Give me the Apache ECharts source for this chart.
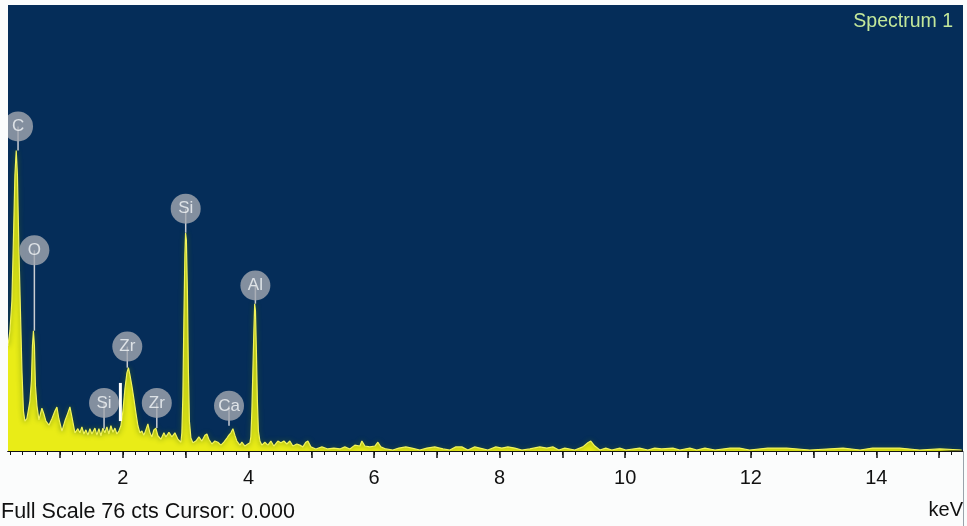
<!DOCTYPE html>
<html>
<head>
<meta charset="utf-8">
<title>Spectrum 1</title>
<style>
  html, body { margin: 0; padding: 0; background: #fbfcfc; }
  #chart { width: 967px; height: 526px; }
</style>
<script src="https://cdn.jsdelivr.net/npm/echarts@6/dist/echarts.min.js"></script>
</head>
<body>
<div id="chart"></div>
<script>
// EDS spectrum: energy (keV) and counts per sampled channel
const energyKeV = [
  0.169, 0.201, 0.232, 0.256, 0.280, 0.301, 0.320, 0.344, 0.368, 0.392,
  0.416, 0.439, 0.471, 0.487, 0.519, 0.543, 0.559, 0.575, 0.591, 0.607,
  0.631, 0.662, 0.710, 0.742, 0.774, 0.822, 0.869, 0.917, 0.949, 0.980,
  1.029, 1.076, 1.124, 1.156, 1.188, 1.236, 1.283, 1.315, 1.347, 1.379,
  1.411, 1.443, 1.475, 1.506, 1.554, 1.586, 1.618, 1.650, 1.681, 1.713,
  1.745, 1.777, 1.809, 1.841, 1.873, 1.904, 1.936, 1.968, 2.000, 2.032,
  2.064, 2.088, 2.111, 2.143, 2.175, 2.207, 2.239, 2.271, 2.303, 2.334,
  2.366, 2.398, 2.430, 2.462, 2.493, 2.525, 2.557, 2.605, 2.653, 2.685,
  2.733, 2.780, 2.828, 2.876, 2.924, 2.939, 2.955, 2.971, 2.987, 2.998,
  3.011, 3.027, 3.043, 3.059, 3.083, 3.115, 3.162, 3.210, 3.258, 3.306,
  3.338, 3.369, 3.417, 3.465, 3.513, 3.561, 3.608, 3.656, 3.688, 3.720,
  3.752, 3.783, 3.815, 3.863, 3.895, 3.943, 3.990, 4.022, 4.038, 4.054,
  4.070, 4.086, 4.099, 4.111, 4.126, 4.142, 4.158, 4.182, 4.213, 4.261,
  4.309, 4.357, 4.404, 4.468, 4.516, 4.564, 4.611, 4.659, 4.707, 4.771,
  4.818, 4.866, 4.914, 4.946, 4.994, 5.073, 5.169, 5.264, 5.360, 5.455,
  5.535, 5.615, 5.694, 5.774, 5.806, 5.854, 5.933, 6.013, 6.061, 6.108,
  6.188, 6.299, 6.395, 6.506, 6.602, 6.729, 6.841, 6.968, 7.096, 7.207,
  7.303, 7.398, 7.494, 7.605, 7.685, 7.812, 7.939, 8.035, 8.131, 8.242,
  8.354, 8.481, 8.640, 8.752, 8.847, 8.943, 9.038, 9.197, 9.325, 9.404,
  9.452, 9.516, 9.596, 9.691, 9.787, 9.914, 10.01, 10.23, 10.36, 10.47,
  10.58, 10.76, 10.87, 11.03, 11.14, 11.27, 11.43, 11.67, 11.82, 11.98,
  12.27, 12.57, 12.94, 13.47, 13.74, 13.94, 14.26, 14.37, 14.69, 15.01,
  15.36
];
const counts = [
  17.9, 20.5, 25.6, 35.9, 47.0, 51.2, 47.0, 34.2, 23.9, 13.7,
  6.8, 5.1, 5.5, 6.5, 8.5, 12.0, 17.9, 20.5, 17.9, 11.1,
  7.7, 5.3, 7.3, 6.3, 5.1, 4.4, 5.5, 6.8, 7.5, 5.5,
  3.4, 5.1, 6.5, 7.5, 5.8, 3.1, 3.8, 3.1, 4.1, 2.9,
  3.6, 2.7, 3.8, 2.9, 3.9, 2.7, 3.8, 2.6, 3.9, 3.1,
  4.1, 2.9, 4.3, 3.2, 3.9, 2.9, 3.4, 4.3, 6.8, 10.6,
  13.3, 14.2, 13.0, 11.1, 8.9, 6.5, 4.3, 3.1, 3.4, 2.7,
  3.6, 4.6, 3.1, 2.4, 3.6, 3.9, 2.6, 2.0, 3.1, 2.4,
  3.2, 2.4, 3.1, 2.0, 1.5, 3.1, 9.4, 22.2, 33.3, 37.2,
  35.9, 27.3, 13.7, 5.1, 2.2, 1.4, 1.7, 2.4, 1.7, 2.7,
  2.9, 2.0, 1.2, 1.7, 1.5, 1.0, 1.5, 2.2, 2.7, 3.1,
  3.8, 2.7, 1.7, 1.0, 1.5, 0.85, 1.2, 1.4, 2.4, 6.8,
  13.7, 20.5, 25.1, 23.9, 17.1, 8.5, 3.4, 1.7, 1.0, 1.5,
  1.0, 1.7, 0.85, 1.7, 1.4, 1.7, 1.2, 1.7, 0.85, 1.2,
  1.0, 0.7, 1.5, 1.7, 0.7, 0.35, 0.7, 0.35, 0.5, 0.35,
  0.7, 0.35, 1.0, 0.85, 1.7, 0.85, 0.7, 0.85, 1.5, 0.7,
  0.35, 0.17, 0.5, 0.7, 0.5, 0.17, 0.5, 0.7, 0.35, 0.17,
  0.7, 0.7, 0.17, 0.7, 0.5, 0.17, 0.7, 0.5, 0.7, 0.5,
  0.17, 0.35, 0.7, 0.5, 0.7, 0.17, 0.5, 0.17, 0.7, 1.4,
  1.7, 0.85, 0.17, 0.5, 0.17, 0.5, 0.17, 0.5, 0.17, 0.5,
  0.35, 0.5, 0.17, 0.5, 0.17, 0.5, 0.17, 0.5, 0.5, 0.17,
  0.5, 0.5, 0.17, 0.5, 0.17, 0.5, 0.5, 0.5, 0.17, 0.35,
  0.17
];

// Element identification markers
const peakNames        = ['C',   'O',   'Si',  'Zr',  'Si',  'Zr',  'Ca',  'Al'];
const peakLabelKeV     = [0.33,  0.59,  3.00,  2.07,  1.70,  2.54,  3.69,  4.11];
const peakLabelCounts  = [55.3,  34.2,  41.3,  17.8,  8.2,   8.2,   7.7,   28.2];
const peakStemEndCount = [51.2,  20.5,  37.2,  14.2,  3.8,   3.9,   4.3,   25.1];

// Cursor marker
const cursorKeV = [1.96];
const cursorFrom = [5.1];
const cursorTo = [11.6];

// Axis settings
const axisLabelKeV = [2, 4, 6, 8, 10, 12, 14];
const majorTickKeV = [1, 2, 3, 4, 5, 6, 7, 8, 9, 10, 11, 12, 13, 14, 15];
const energyRange = [0.17, 15.38];
const fullScaleCounts = 76;

const minorTickKeV = [];
for (let k = 1; k <= 76; k++) minorTickKeV.push(Math.round(k * 2) / 10);

const spectrumData = energyKeV.map((e, i) => [e, counts[i]]);
const markerData = peakLabelKeV.map((e, i) => [e, peakLabelCounts[i], peakStemEndCount[i], peakNames[i]]);
const cursorData = cursorKeV.map((e, i) => [e, cursorFrom[i], cursorTo[i]]);

const FONT = '"Liberation Sans", Arial, Helvetica, sans-serif';

function verticalSegment(color, width) {
  return function (params, api) {
    const a = api.coord([api.value(0), api.value(1)]);
    const b = api.coord([api.value(0), api.value(2)]);
    return {
      type: 'line',
      shape: { x1: a[0], y1: a[1], x2: b[0], y2: b[1] },
      style: { stroke: color, lineWidth: width }
    };
  };
}

const chart = echarts.init(document.getElementById('chart'), null, { renderer: 'canvas' });
chart.setOption({
  animation: false,
  backgroundColor: '#fbfcfc',
  grid: {
    left: 8, right: 4, top: 5, bottom: 75,
    show: true, backgroundColor: '#052d59', borderWidth: 0
  },
  xAxis: [
    {
      type: 'value', min: energyRange[0], max: energyRange[1], position: 'bottom',
      axisLine: { show: true, onZero: false, lineStyle: { color: '#111', width: 2 } },
      axisTick: { show: true, customValues: minorTickKeV, length: 4, lineStyle: { color: '#111', width: 1 } },
      axisLabel: { show: false },
      splitLine: { show: false }
    },
    {
      type: 'value', min: energyRange[0], max: energyRange[1], position: 'bottom',
      axisLine: { show: false, onZero: false },
      axisTick: { show: true, customValues: majorTickKeV, length: 7, lineStyle: { color: '#111', width: 1.5 } },
      axisLabel: { show: true, customValues: axisLabelKeV, margin: 17, fontSize: 20, color: '#111', fontFamily: FONT },
      splitLine: { show: false }
    }
  ],
  yAxis: { type: 'value', min: 0, max: fullScaleCounts, show: false },
  series: [
    {
      name: 'Spectrum 1',
      type: 'line',
      data: spectrumData,
      showSymbol: false,
      symbol: 'none',
      lineStyle: { color: '#f2f35a', width: 1.2, shadowColor: 'rgba(70,110,20,0.9)', shadowBlur: 5 },
      areaStyle: { color: '#e9ec17', opacity: 1 },
      z: 2
    },
    {
      name: 'stems',
      type: 'custom',
      data: markerData,
      encode: { x: 0, y: [1, 2] },
      renderItem: verticalSegment('#c9ccd2', 1.5),
      z: 3
    },
    {
      name: 'cursor',
      type: 'custom',
      data: cursorData,
      encode: { x: 0, y: [1, 2] },
      renderItem: verticalSegment('#ffffff', 3),
      z: 3
    },
    {
      name: 'elements',
      type: 'scatter',
      data: markerData.map(d => [d[0], d[1], d[3]]),
      symbol: 'circle',
      symbolSize: 30,
      itemStyle: { color: '#a3a8b0' },
      label: {
        show: true, position: 'inside',
        formatter: p => p.value[2],
        color: '#f4f6f8', fontSize: 17, fontFamily: FONT
      },
      z: 4
    }
  ],
  graphic: [
    { type: 'rect', left: 0, top: 0, shape: { width: 8, height: 451 }, style: { fill: '#fbfcfc' }, z: 100 },
    { type: 'rect', left: 0, top: 0, shape: { width: 967, height: 5 }, style: { fill: '#fbfcfc' }, z: 100 },
    { type: 'rect', left: 963, top: 0, shape: { width: 4, height: 526 }, style: { fill: '#fbfcfc' }, z: 100 },
    { type: 'line', shape: { x1: 963.5, y1: 451, x2: 963.5, y2: 526 }, style: { stroke: '#9aa3ab', lineWidth: 1 }, z: 101 },
    {
      type: 'text', right: 14, top: 12, z: 101,
      style: { text: 'Spectrum 1', font: '19.5px ' + FONT, fill: '#c3e79a' }
    },
    {
      type: 'text', left: 1, top: 501, z: 101,
      style: { text: 'Full Scale 76 cts Cursor: 0.000', font: '21.5px ' + FONT, fill: '#111' }
    },
    {
      type: 'text', right: 4, top: 500, z: 101,
      style: { text: 'keV', font: '20px ' + FONT, fill: '#111' }
    }
  ]
});
</script>
</body>
</html>
